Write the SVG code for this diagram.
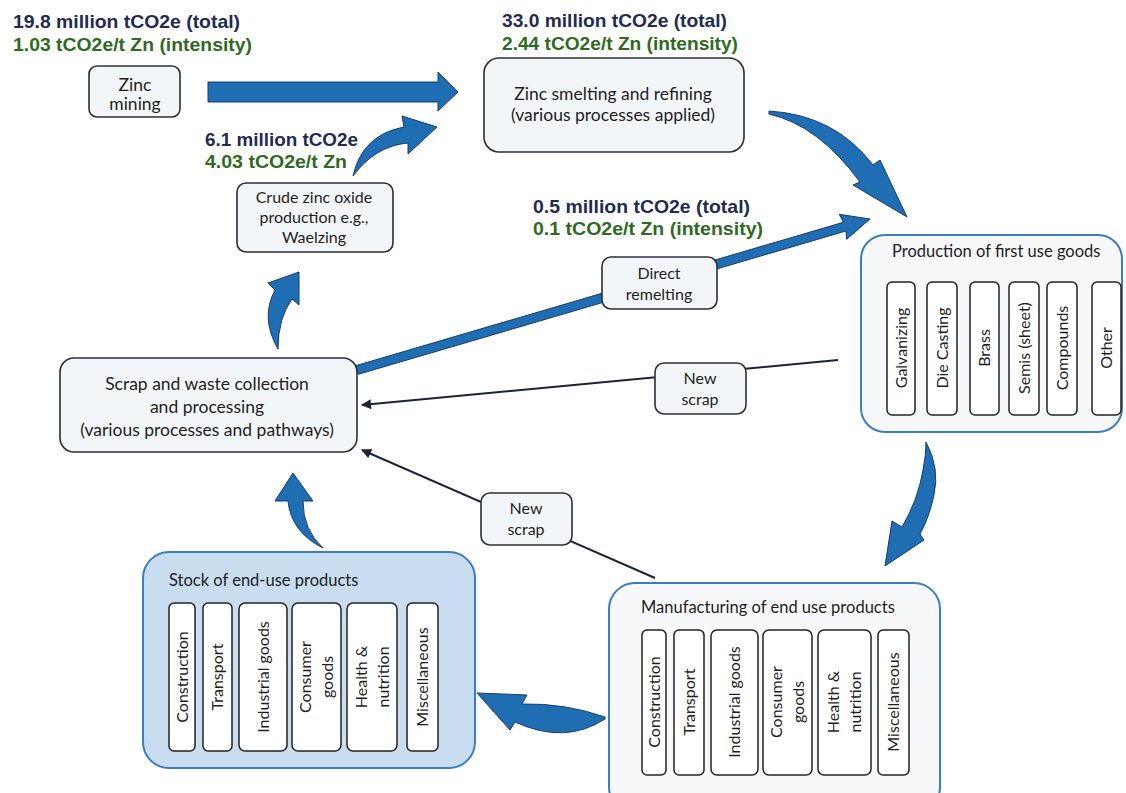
<svg xmlns="http://www.w3.org/2000/svg" width="1126" height="793" viewBox="0 0 1126 793">
<defs>
<style>
.hd{font-family:"Liberation Sans",Arial,sans-serif;font-weight:bold;font-size:18.5px}
.nv{fill:#1f2b52}
.gr{fill:#2f6a1f}
.t{font-family:Lato,"Liberation Sans",sans-serif;font-size:17.5px;fill:#1e1e1e;text-anchor:middle}
.ts{font-family:Lato,"Liberation Sans",sans-serif;font-size:16px;fill:#1e1e1e;text-anchor:middle}
.tl{font-family:Lato,"Liberation Sans",sans-serif;font-size:16.5px;fill:#1e1e1e}
.box{fill:#f3f6f9;stroke:#2b2f38;stroke-width:1.6}
.cont{fill:#f6f8fa;stroke:#3a7dc2;stroke-width:2}
.stock{fill:#c8ddf0;stroke:#3a7dc2;stroke-width:2}
.col{fill:#ffffff;stroke:#222;stroke-width:1.5}
.arr{fill:#1f6db3;stroke:#173c69;stroke-width:1}
.ln{stroke:#1c2338;stroke-width:2;fill:none;marker-end:url(#ah)}
</style>
<marker id="ah" viewBox="0 0 10 10" refX="9" refY="5" markerUnits="userSpaceOnUse" markerWidth="12" markerHeight="10" orient="auto">
<path d="M0,0 L10,5 L0,10 z" fill="#1c2338"/>
</marker>
</defs>
<rect width="1126" height="793" fill="#ffffff"/>

<g id="labels">
<text class="hd nv" x="13" y="28" textLength="227" lengthAdjust="spacingAndGlyphs">19.8 million tCO2e (total)</text>
<text class="hd gr" x="13" y="51" textLength="239" lengthAdjust="spacingAndGlyphs">1.03 tCO2e/t Zn (intensity)</text>
<text class="hd nv" x="502" y="27" textLength="225" lengthAdjust="spacingAndGlyphs">33.0 million tCO2e (total)</text>
<text class="hd gr" x="502" y="50" textLength="236" lengthAdjust="spacingAndGlyphs">2.44 tCO2e/t Zn (intensity)</text>
<text class="hd nv" x="205" y="146" textLength="153" lengthAdjust="spacingAndGlyphs">6.1 million tCO2e</text>
<text class="hd gr" x="205" y="168" textLength="142" lengthAdjust="spacingAndGlyphs">4.03 tCO2e/t Zn</text>
<text class="hd nv" x="533" y="213" textLength="217" lengthAdjust="spacingAndGlyphs">0.5 million tCO2e (total)</text>
<text class="hd gr" x="533" y="235" textLength="230" lengthAdjust="spacingAndGlyphs">0.1 tCO2e/t Zn (intensity)</text>
</g>

<g id="connectors">
<path class="arr" d="M208,82 L438,82 L438,72 L458,92 L438,111 L438,102 L208,102 Z"/>
<path class="arr" d="M353,176 Q362,135 404,127 L402,116 L437,127 L408,154 L408,143 Q375,146 353,176 Z"/>
<path class="arr" d="M769,111 Q835,115 873,165 L880,160 L907,217 L853,185 L860,182 Q818,125 769,114 Z"/>
<path class="arr" d="M926,442 Q940,468 934,495 Q929,518 920,534 L924,540 L885,566 L892,521 L902,527 Q918,500 923,470 Q926,455 926,442 Z"/>
<path class="arr" d="M605,717 Q565,703 522,704 L527,695 L477,693 L510,730 L515,722 Q565,745 605,719 Z"/>
<path class="arr" d="M278,349 Q260,318 275,290 L268,283 L299,272 L299,305 L292,299 Q278,318 278,349 Z"/>
<path class="arr" d="M323,548 Q291,532 288,501 L275,501 L293,473 L313,501 L303,501 Q303,530 323,548 Z"/>
<path class="arr" d="M355.7,365.7 L843.3,222.3 L839.3,214.3 L870,219 L846.7,239.3 L845.9,231 L358.3,374.3 Z"/>
<path class="ln" d="M838,360 L362,405"/>
<path class="ln" d="M655,578 L362,450"/>
</g>

<g id="zinc-mining">
<rect class="box" x="89" y="66" width="91" height="51" rx="8"/>
<text class="t" x="135" y="91">Zinc</text>
<text class="t" x="135" y="110">mining</text>
</g>

<g id="smelting">
<rect class="box" x="484" y="58" width="260" height="94" rx="15"/>
<text class="t" x="613" y="100">Zinc smelting and refining</text>
<text class="t" x="613" y="121">(various processes applied)</text>
</g>

<g id="crude-zinc-oxide">
<rect class="box" x="237" y="183" width="156" height="69" rx="9"/>
<text class="ts" x="314" y="203">Crude zinc oxide</text>
<text class="ts" x="314" y="223">production e.g.,</text>
<text class="ts" x="314" y="243">Waelzing</text>
</g>

<g id="scrap-collection">
<rect class="box" x="60" y="358" width="297" height="94" rx="14"/>
<text class="t" x="207" y="390">Scrap and waste collection</text>
<text class="t" x="207" y="413">and processing</text>
<text class="t" x="207" y="436">(various processes and pathways)</text>
</g>

<g id="direct-remelting">
<rect class="box" x="602" y="257" width="115" height="52" rx="9"/>
<text class="ts" x="659" y="279">Direct</text>
<text class="ts" x="659" y="300">remelting</text>
</g>

<g id="new-scrap-1">
<rect class="box" x="655" y="363" width="91" height="51" rx="9"/>
<text class="ts" x="700" y="384">New</text>
<text class="ts" x="700" y="405">scrap</text>
</g>

<g id="new-scrap-2">
<rect class="box" x="481" y="493" width="91" height="52" rx="9"/>
<text class="ts" x="526" y="514">New</text>
<text class="ts" x="526" y="535">scrap</text>
</g>

<g id="first-use-goods">
<rect class="cont" x="861" y="235" width="261" height="197" rx="24"/>
<text class="tl" x="892" y="257">Production of first use goods</text>
<rect class="col" x="887" y="282" width="28" height="133" rx="5"/>
<rect class="col" x="927" y="282" width="30" height="133" rx="5"/>
<rect class="col" x="970" y="282" width="29" height="133" rx="5"/>
<rect class="col" x="1009" y="282" width="30" height="133" rx="5"/>
<rect class="col" x="1047" y="282" width="30" height="133" rx="5"/>
<rect class="col" x="1092" y="282" width="29" height="133" rx="5"/>
<text class="ts" transform="translate(906.6,348) rotate(-90)">Galvanizing</text>
<text class="ts" transform="translate(947.6,348) rotate(-90)">Die Casting</text>
<text class="ts" transform="translate(990,348) rotate(-90)">Brass</text>
<text class="ts" transform="translate(1029.6,348) rotate(-90)">Semis (sheet)</text>
<text class="ts" transform="translate(1067.6,348) rotate(-90)">Compounds</text>
<text class="ts" transform="translate(1112,348) rotate(-90)">Other</text>
</g>

<g id="stock-end-use">
<rect class="stock" x="143" y="552" width="332" height="216" rx="26"/>
<text class="tl" x="169" y="586">Stock of end-use products</text>
<rect class="col" x="169" y="603" width="26" height="148" rx="5"/>
<rect class="col" x="203" y="603" width="29" height="148" rx="5"/>
<rect class="col" x="239" y="603" width="48" height="148" rx="6"/>
<rect class="col" x="292" y="603" width="49" height="148" rx="6"/>
<rect class="col" x="347" y="603" width="50" height="148" rx="6"/>
<rect class="col" x="407" y="603" width="31" height="148" rx="5"/>
<text class="ts" transform="translate(187.6,677) rotate(-90)">Construction</text>
<text class="ts" transform="translate(223.1,677) rotate(-90)">Transport</text>
<text class="ts" transform="translate(268.6,677) rotate(-90)">Industrial goods</text>
<text class="ts" transform="translate(316.5,677) rotate(-90)"><tspan x="0" y="-5.4">Consumer</tspan><tspan x="0" y="16.6">goods</tspan></text>
<text class="ts" transform="translate(372,677) rotate(-90)"><tspan x="0" y="-5.4">Health &amp;</tspan><tspan x="0" y="16.6">nutrition</tspan></text>
<text class="ts" transform="translate(428.1,677) rotate(-90)">Miscellaneous</text>
</g>

<g id="manufacturing">
<rect class="cont" x="609" y="583" width="331" height="230" rx="26"/>
<text class="tl" x="641" y="613">Manufacturing of end use products</text>
<rect class="col" x="642" y="630" width="24" height="145" rx="5"/>
<rect class="col" x="674" y="630" width="30" height="145" rx="5"/>
<rect class="col" x="711" y="630" width="47" height="145" rx="6"/>
<rect class="col" x="763" y="630" width="49" height="145" rx="6"/>
<rect class="col" x="818" y="630" width="53" height="145" rx="6"/>
<rect class="col" x="878" y="630" width="31" height="145" rx="5"/>
<text class="ts" transform="translate(659.6,702) rotate(-90)">Construction</text>
<text class="ts" transform="translate(694.6,702) rotate(-90)">Transport</text>
<text class="ts" transform="translate(740.1,702) rotate(-90)">Industrial goods</text>
<text class="ts" transform="translate(787.5,702) rotate(-90)"><tspan x="0" y="-5.4">Consumer</tspan><tspan x="0" y="16.6">goods</tspan></text>
<text class="ts" transform="translate(844.5,702) rotate(-90)"><tspan x="0" y="-5.4">Health &amp;</tspan><tspan x="0" y="16.6">nutrition</tspan></text>
<text class="ts" transform="translate(899.1,702) rotate(-90)">Miscellaneous</text>
</g>
</svg>
